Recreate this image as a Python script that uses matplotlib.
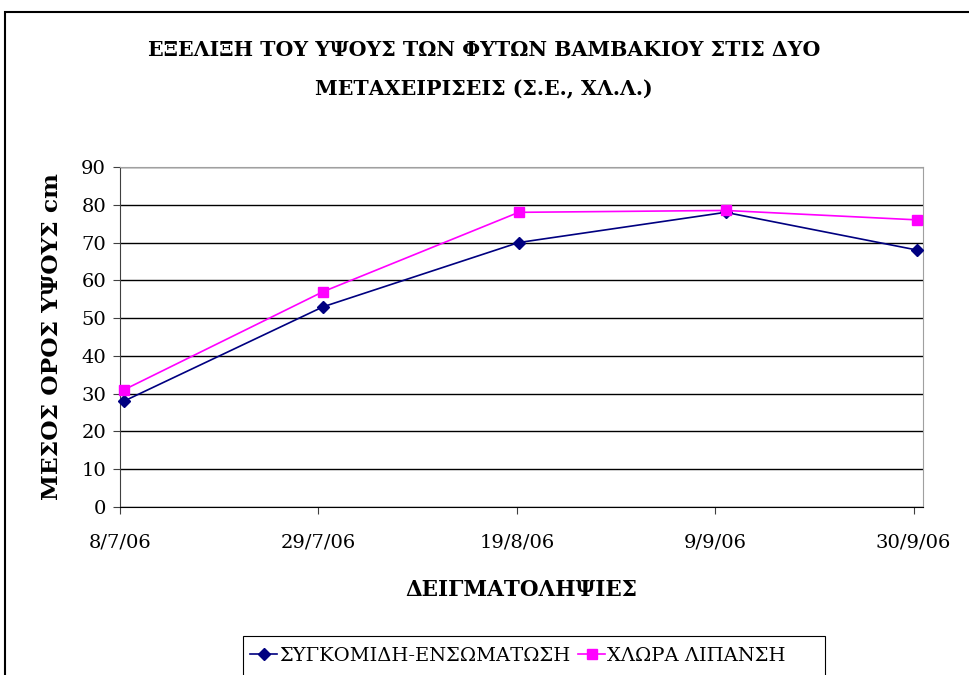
import matplotlib
matplotlib.use("Agg")
import matplotlib.pyplot as plt
from matplotlib.patches import Rectangle

plt.rcParams['font.family'] = ['DejaVu Serif']

# sampling dates (days after 8/7/06)
days = [0.4, 21.5, 42.2, 64.1, 84.4]
tick_days = [0, 21, 42, 63, 84]
tick_labels = ['8/7/06', '29/7/06', '19/8/06', '9/9/06', '30/9/06']

# mean plant height (cm)
sygkomidi = [28, 53, 70, 78, 68]
chlora = [31, 57, 78, 78.5, 76]

fig = plt.figure(figsize=(9.69, 6.75), dpi=100)
W, H = 969, 675

# outer chart border (cut off on right/bottom like the original)
fig.patches.append(Rectangle((5 / W, -0.1), 1.2, 1 - 12 / H + 0.1,
                             transform=fig.transFigure, fill=False,
                             edgecolor='black', linewidth=1.5))

ax = fig.add_axes([120 / W, 1 - 507 / H, (923 - 120) / W, (507 - 167) / H])

ax.plot(days, sygkomidi, color='#000080', marker='D', markersize=6,
        linewidth=1.2, label='ΣΥΓΚΟΜΙΔΗ-ΕΝΣΩΜΑΤΩΣΗ', clip_on=False, zorder=3)
ax.plot(days, chlora, color='#FF00FF', marker='s', markersize=7,
        linewidth=1.2, label='ΧΛΩΡΑ ΛΙΠΑΝΣΗ', clip_on=False, zorder=3)

ax.set_xlim(0, 85)
ax.set_ylim(0, 90)
ax.set_yticks(range(0, 91, 10))
ax.set_xticks(tick_days)
ax.set_xticklabels(tick_labels)
ax.yaxis.grid(True, color='black', linewidth=1)
ax.set_axisbelow(True)

for side in ['top', 'right']:
    ax.spines[side].set_color('#a0a0a0')
ax.spines['left'].set_color('#404040')
ax.spines['bottom'].set_color('black')
ax.tick_params(axis='both', direction='out', length=5, labelsize=14, color='#404040')
ax.tick_params(axis='x', pad=14)
ax.tick_params(axis='y', pad=5)

ax.set_ylabel('ΜΕΣΟΣ ΟΡΟΣ ΥΨΟΥΣ cm', fontsize=16.8, fontweight='bold', labelpad=13)
ax.set_xlabel('ΔΕΙΓΜΑΤΟΛΗΨΙΕΣ', fontsize=15.5, fontweight='bold', labelpad=20)

fig.text(484 / W, 1 - 40 / H,
         'ΕΞΕΛΙΞΗ ΤΟΥ ΥΨΟΥΣ ΤΩΝ ΦΥΤΩΝ ΒΑΜΒΑΚΙΟΥ ΣΤΙΣ ΔΥΟ\nΜΕΤΑΧΕΙΡΙΣΕΙΣ (Σ.Ε., ΧΛ.Λ.)',
         ha='center', va='top', fontsize=14.8, fontweight='bold', linespacing=2.2)

# legend box runs off the bottom edge, as in the original
fig.patches.append(Rectangle((243 / W, -0.05), (825 - 243) / W, 0.05 + 1 - 636 / H,
                             transform=fig.transFigure, fill=False,
                             edgecolor='black', linewidth=0.8))
leg = fig.legend(loc='center left', bbox_to_anchor=(250 / W, 1 - 656 / H), ncol=2,
                 fontsize=14, frameon=False,
                 handlelength=1.4, columnspacing=0.4, handletextpad=0.1,
                 borderpad=0, borderaxespad=0)

fig.savefig('out.png', dpi=100)
